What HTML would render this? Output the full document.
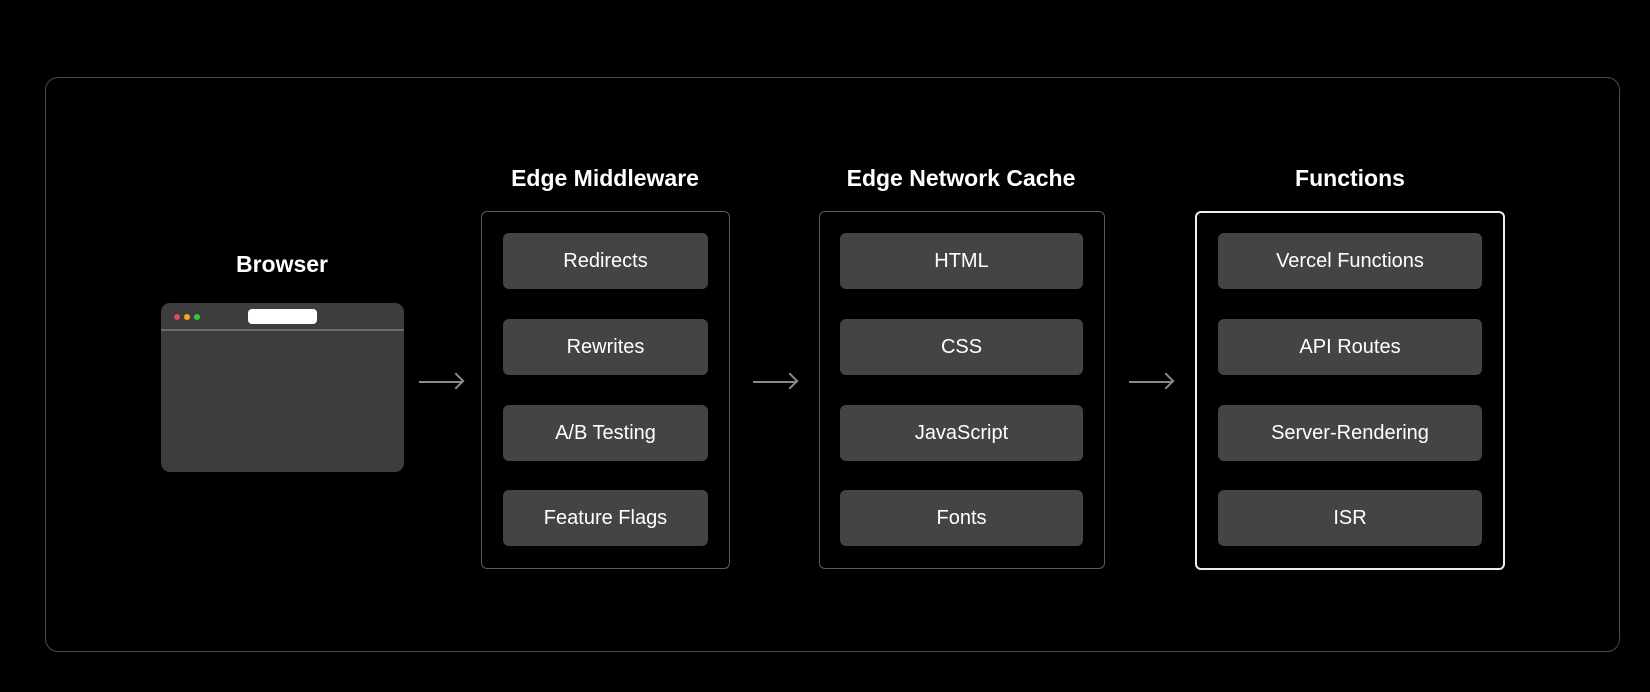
<!DOCTYPE html>
<html><head><style>
body{margin:0;background:#000;width:1650px;height:692px;position:relative;overflow:hidden;font-family:"Liberation Sans",sans-serif;color:#fff}
.a{position:absolute;box-sizing:border-box}
.outer{left:45px;top:77px;width:1575px;height:575px;border:1.5px solid #4a4a4a;border-radius:13px}
.title{position:absolute;font-weight:bold;font-size:23px;text-align:center;transform:translateX(-50%);white-space:nowrap}
.box{border:1.5px solid #5a5a5a;border-radius:6px}
.item{background:#444;border-radius:6px;font-size:20px;display:flex;align-items:center;justify-content:center;height:56px}
.arrow{position:absolute;height:2px;background:#8a8a8a}
.arrow:after{content:"";position:absolute;right:0;top:-6px;width:10px;height:10px;border-top:2px solid #8a8a8a;border-right:2px solid #8a8a8a;transform:rotate(45deg);transform-origin:center;right:1px}
</style></head><body>
<div class="a outer"></div>
<div class="title" style="left:282px;top:251px">Browser</div>
<div class="a" style="left:161px;top:303px;width:243px;height:169px;background:#3d3d3d;border-radius:9px"></div>
<div class="a" style="left:161px;top:329px;width:243px;height:1.5px;background:#6a6a6a"></div>
<div class="a" style="left:248px;top:309px;width:69px;height:15px;background:#fff;border-radius:4px"></div>
<div class="a" style="left:174px;top:314px;width:6px;height:6px;border-radius:50%;background:#e5484d"></div>
<div class="a" style="left:184px;top:314px;width:6px;height:6px;border-radius:50%;background:#f5a623"></div>
<div class="a" style="left:194px;top:314px;width:6px;height:6px;border-radius:50%;background:#2ecc40"></div>

<div class="arrow" style="left:419px;top:381px;width:44px"></div>
<div class="arrow" style="left:753px;top:381px;width:44px"></div>
<div class="arrow" style="left:1129px;top:381px;width:44px"></div>

<div class="title" style="left:605px;top:165px">Edge Middleware</div>
<div class="a box" style="left:481px;top:211px;width:249px;height:358px"></div>
<div class="a item" style="left:503px;top:233px;width:205px">Redirects</div>
<div class="a item" style="left:503px;top:319px;width:205px">Rewrites</div>
<div class="a item" style="left:503px;top:405px;width:205px">A/B Testing</div>
<div class="a item" style="left:503px;top:490px;width:205px">Feature Flags</div>

<div class="title" style="left:961px;top:165px">Edge Network Cache</div>
<div class="a box" style="left:819px;top:211px;width:286px;height:358px"></div>
<div class="a item" style="left:840px;top:233px;width:243px">HTML</div>
<div class="a item" style="left:840px;top:319px;width:243px">CSS</div>
<div class="a item" style="left:840px;top:405px;width:243px">JavaScript</div>
<div class="a item" style="left:840px;top:490px;width:243px">Fonts</div>

<div class="title" style="left:1350px;top:165px">Functions</div>
<div class="a box" style="left:1195px;top:211px;width:310px;height:359px;border:2px solid #eee"></div>
<div class="a item" style="left:1218px;top:233px;width:264px">Vercel Functions</div>
<div class="a item" style="left:1218px;top:319px;width:264px">API Routes</div>
<div class="a item" style="left:1218px;top:405px;width:264px">Server-Rendering</div>
<div class="a item" style="left:1218px;top:490px;width:264px">ISR</div>
</body></html>
